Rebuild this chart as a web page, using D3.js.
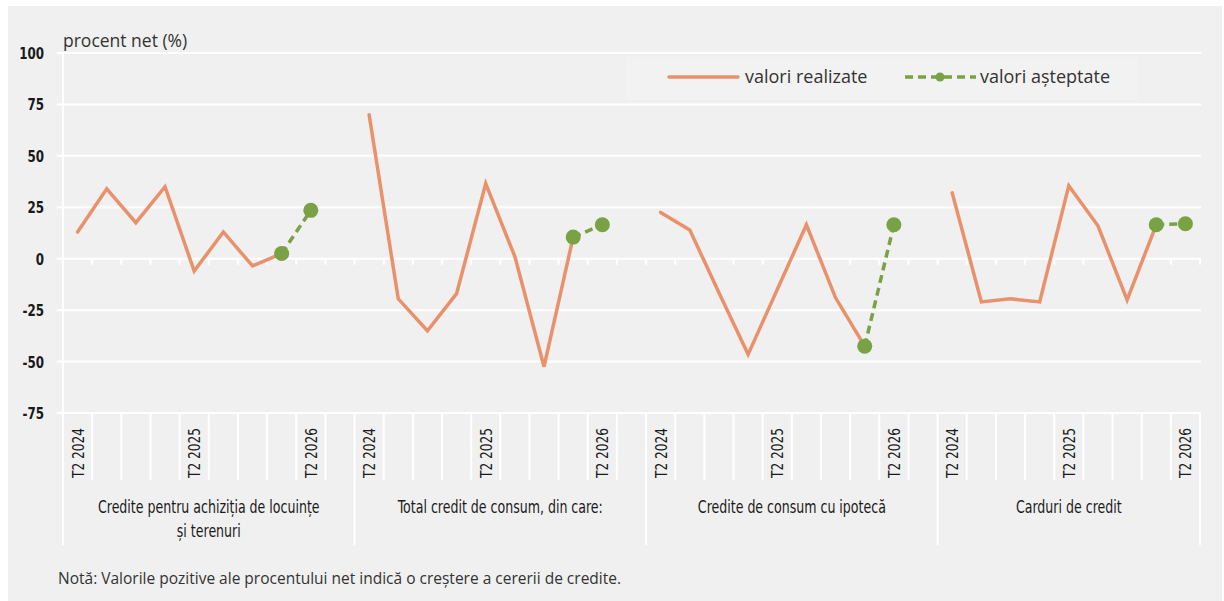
<!DOCTYPE html>
<html>
<head>
<meta charset="utf-8">
<script src="https://cdn.jsdelivr.net/npm/d3@7"></script>
<style>
  body { margin: 0; background: #fff; }
  svg { display: block; }
  .cond { font-family: "Liberation Sans Narrow", "DejaVu Sans Condensed", "Roboto Condensed", sans-serif; font-stretch: condensed; }
  .reg { font-family: "Open Sans", "Noto Sans", sans-serif; }
</style>
</head>
<body>
<div id="chart"></div>
<script>
// Cererea de credite - procent net, valori realizate si asteptate
const groupLabels = [
  ["Credite pentru achiziția de locuințe", "și terenuri"],
  ["Total credit de consum, din care:"],
  ["Credite de consum cu ipotecă"],
  ["Carduri de credit"]
];
const quarters = ["T2 2024", "T3 2024", "T4 2024", "T1 2025", "T2 2025", "T3 2025", "T4 2025", "T1 2026", "T2 2026"];
const shownQuarters = ["T2 2024", "T2 2025", "T2 2026"];

// valori realizate (T2 2024 .. T1 2026)
const realized = [
  [13, 34, 17.5, 35, -6, 13, -3.5, 2.5],
  [70, -19.5, -35, -17, 36.5, 1, -52.5, 10.5],
  [22.5, 14, -16.5, -46.5, -15, 16.5, -19, -42.5],
  [32, -21, -19.5, -21, 35.5, 16, -20, 16.5]
];
// valori asteptate (T1 2026, T2 2026)
const expected = [
  [2.5, 23.5],
  [10.5, 16.5],
  [-42.5, 16.5],
  [16.5, 17]
];
const yTicks = [-75, -50, -25, 0, 25, 50, 75, 100];

const width = 1224, height = 601;
const orange = "#e8916b", green = "#78a244";

// category keys: 10 slots per group (last slot is an empty spacer), except the last group
const keys = [];
const groupStart = [];
groupLabels.forEach((g, gi) => {
  groupStart.push(keys.length);
  quarters.forEach((q, qi) => keys.push(`${gi}-${qi}`));
  if (gi < groupLabels.length - 1) keys.push(`${gi}-gap`);
});
groupStart.push(keys.length);

const x = d3.scaleBand().domain(keys).range([63, 1200]).padding(0);
const y = d3.scaleLinear().domain([-75, 100]).range([413, 53]);
const bw = x.bandwidth();
const edge = i => x.range()[0] + i * bw;

const svg = d3.select("#chart").append("svg")
  .attr("width", width)
  .attr("height", height);

svg.append("rect")
  .attr("x", 8).attr("y", 6)
  .attr("width", 1214).attr("height", 595)
  .attr("fill", "#f0f0f0");

// gridlines
svg.append("g")
  .selectAll("line")
  .data(yTicks)
  .join("line")
  .attr("x1", 57).attr("x2", 1201)
  .attr("y1", d => y(d)).attr("y2", d => y(d))
  .attr("stroke", "#fff").attr("stroke-width", 2);

// y axis line
svg.append("line")
  .attr("x1", 63).attr("x2", 63)
  .attr("y1", y(100)).attr("y2", y(-75))
  .attr("stroke", "#fff").attr("stroke-width", 2);

// y tick labels
svg.append("g")
  .attr("class", "cond")
  .selectAll("text")
  .data(yTicks)
  .join("text")
  .attr("transform", d => `translate(44,${y(d) + 6}) scale(0.8,1)`)
  .attr("text-anchor", "end")
  .attr("font-size", "16.5px")
  .attr("font-weight", "600")
  .attr("fill", "#1a1a1a")
  .text(d => d);

svg.append("text")
  .attr("class", "reg")
  .attr("x", 63).attr("y", 47)
  .attr("font-size", "17.5px")
  .attr("fill", "#333")
  .text("procent net (%)");

// small ticks on zero line and separators below the plot
const edges = d3.range(keys.length + 1);
svg.append("g")
  .selectAll("line")
  .data(edges.filter(i => i > 0))
  .join("line")
  .attr("x1", i => edge(i)).attr("x2", i => edge(i))
  .attr("y1", y(0)).attr("y2", y(0) + 6)
  .attr("stroke", "#fff").attr("stroke-width", 2);

svg.append("g")
  .selectAll("line")
  .data(edges)
  .join("line")
  .attr("x1", i => edge(i)).attr("x2", i => edge(i))
  .attr("y1", y(-75))
  .attr("y2", i => groupStart.includes(i) ? 545 : 480)
  .attr("stroke", "#fff").attr("stroke-width", 2);

// category labels (rotated)
svg.append("g")
  .attr("class", "cond")
  .selectAll("text")
  .data(keys.filter(k => shownQuarters.includes(quarters[+k.split("-")[1]])))
  .join("text")
  .attr("transform", k => `translate(${x(k) + bw / 2 + 6},428) rotate(-90) scale(0.82,1)`)
  .attr("text-anchor", "end")
  .attr("font-size", "16.5px")
  .attr("fill", "#1a1a1a")
  .text(k => quarters[+k.split("-")[1]]);

// group labels
const gl = svg.append("g").attr("class", "cond")
  .selectAll("text")
  .data(groupLabels)
  .join("text")
  .attr("transform", (d, i) => `translate(${(edge(groupStart[i]) + edge(groupStart[i + 1])) / 2},513) scale(0.8,1)`)
  .attr("text-anchor", "middle")
  .attr("font-size", "17.5px")
  .attr("fill", "#1a1a1a");
gl.selectAll("tspan")
  .data(d => d)
  .join("tspan")
  .attr("x", 0)
  .attr("y", (d, j) => j * 24)
  .text(d => d);

// lines
const line = d3.line().x(d => x(d.k) + bw / 2).y(d => y(d.v));
groupLabels.forEach((g, gi) => {
  const r = realized[gi].map((v, qi) => ({ k: `${gi}-${qi}`, v }));
  const e = expected[gi].map((v, j) => ({ k: `${gi}-${7 + j}`, v }));
  svg.append("path")
    .datum(r)
    .attr("d", line)
    .attr("fill", "none")
    .attr("stroke", orange)
    .attr("stroke-width", 3.5)
    .attr("stroke-linecap", "round");
  svg.append("path")
    .datum(e)
    .attr("d", line)
    .attr("fill", "none")
    .attr("stroke", green)
    .attr("stroke-width", 3.5)
    .attr("stroke-dasharray", "8,5");
  svg.append("g")
    .selectAll("circle")
    .data(e)
    .join("circle")
    .attr("cx", d => x(d.k) + bw / 2)
    .attr("cy", d => y(d.v))
    .attr("r", 7.5)
    .attr("fill", green);
});

// legend
const lg = svg.append("g");
lg.append("rect")
  .attr("x", 626).attr("y", 57)
  .attr("width", 512).attr("height", 43)
  .attr("fill", "#f2f2f2");
lg.append("line")
  .attr("x1", 669).attr("x2", 738).attr("y1", 77).attr("y2", 77)
  .attr("stroke", orange).attr("stroke-width", 3.5).attr("stroke-linecap", "round");
lg.append("text").attr("class", "reg")
  .attr("x", 745).attr("y", 83)
  .attr("font-size", "18px").attr("fill", "#333")
  .text("valori realizate");
lg.append("line")
  .attr("x1", 905).attr("x2", 976).attr("y1", 77).attr("y2", 77)
  .attr("stroke", green).attr("stroke-width", 3.5).attr("stroke-dasharray", "8,5");
lg.append("circle")
  .attr("cx", 940).attr("cy", 77).attr("r", 4.5).attr("fill", green);
lg.append("text").attr("class", "reg")
  .attr("x", 980).attr("y", 83)
  .attr("font-size", "18px").attr("fill", "#333")
  .text("valori așteptate");

// note
svg.append("text").attr("class", "reg")
  .attr("x", 58).attr("y", 584)
  .attr("font-size", "15.5px").attr("fill", "#333")
  .text("Notă: Valorile pozitive ale procentului net indică o creștere a cererii de credite.");
</script>
</body>
</html>
